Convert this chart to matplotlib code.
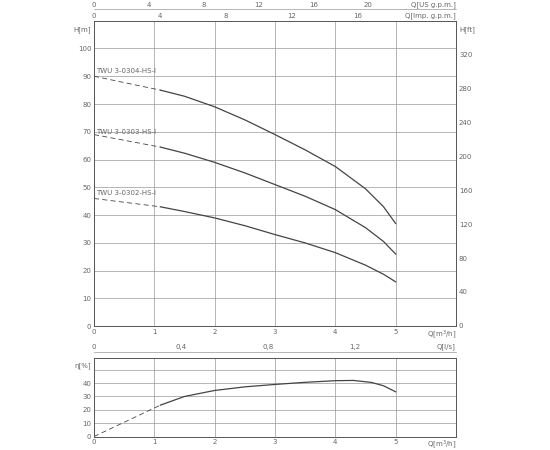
import matplotlib
matplotlib.use("Agg")
import matplotlib.pyplot as plt
from matplotlib.transforms import ScaledTranslation

# pump head curves, Q in m3/h, H in m
q_curve = [1.1, 1.5, 2.0, 2.5, 3.0, 3.5, 4.0, 4.5, 4.8, 5.0]
h_304 = [85, 82.8, 79, 74.3, 69, 63.5, 57.5, 49.5, 43, 37]
h_303 = [64.5, 62.3, 59, 55.2, 51, 46.8, 42, 35.5, 30.5, 26]
h_302 = [43, 41.3, 39, 36.2, 33, 30, 26.5, 22, 18.7, 16]
q_dash = [0, 1.1]
h_dash = {"TWU 3-0304-HS-I": [90, 85], "TWU 3-0303-HS-I": [69, 64.5],
          "TWU 3-0302-HS-I": [46, 43]}
label_y = [92, 70, 48]

# efficiency
q_eff = [1.1, 1.5, 2.0, 2.5, 3.0, 3.5, 4.0, 4.3, 4.6, 4.8, 5.0]
eff = [23.5, 30, 34.5, 37.2, 39, 40.6, 41.8, 42, 40.5, 38, 33.5]
q_eff_dash = [0, 1.1]
eff_dash = [0, 23.5]

gc = "#999999"
lc = "#444444"
tc = "#666666"
fs = 5

fig = plt.figure(figsize=(5.5, 4.5), dpi=100)
ax = fig.add_axes([0.171, 0.275, 0.658, 0.679])
ax2 = fig.add_axes([0.171, 0.03, 0.658, 0.175])

for a in (ax, ax2):
    a.set_xlim(0, 6)
    a.set_xticks(range(0, 6))
    a.grid(True, color=gc, lw=0.5)
    a.tick_params(labelsize=fs, colors=tc, length=0, pad=2)
    for s in a.spines.values():
        s.set_color("#555555")
        s.set_linewidth(0.7)


def up(a, pts):
    return a.get_xaxis_transform() + ScaledTranslation(0, pts / 72, fig.dpi_scale_trans)


ax.set_ylim(0, 110)
ax.set_yticks(range(0, 101, 10))
ax.set_xticklabels([])
for i in range(0, 6):
    ax.annotate(str(i), (i, 0), xytext=(0, -2), textcoords="offset points",
                fontsize=fs, color=tc, ha="center", va="top")
ax.annotate("Q[m$^3$/h]", (6, 0), xytext=(0, -1.5), textcoords="offset points",
            fontsize=fs, color=tc, ha="right", va="top")
ax.text(-0.05, 108, "H[m]", fontsize=fs, color=tc, ha="right", va="top")
ax.text(6.05, 108, "H[ft]", fontsize=fs, color=tc, ha="left", va="top")
for ft in range(0, 321, 40):
    ax.text(6.05, ft / 3.281, str(ft), fontsize=fs, color=tc, ha="left", va="center")

for h in (h_304, h_303, h_302):
    ax.plot(q_curve, h, color=lc, lw=0.9)
for (name, hd), ly in zip(h_dash.items(), label_y):
    ax.plot(q_dash, hd, color=lc, lw=0.6, ls=(0, (6, 4)))
    ax.text(0.03, ly, name, fontsize=fs, color=tc, ha="left", va="center")

# top secondary scales
for off, conv, name, ticks in [(8.5, 4.403, "Q[US g.p.m.]", [0, 4, 8, 12, 16, 20]),
                               (0, 3.666, "Q[Imp. g.p.m.]", [0, 4, 8, 12, 16])]:
    if off:
        ax.plot([0, 6], [1, 1], transform=up(ax, off), color=gc, lw=0.5, clip_on=False)
    for t in ticks:
        ax.text(t / conv, 1, str(t), transform=up(ax, off + 1), fontsize=fs,
                color=tc, ha="center", va="bottom")
    ax.text(6, 1, name, transform=up(ax, off + 1), fontsize=fs, color=tc,
            ha="right", va="bottom")

ax2.set_ylim(0, 59)
ax2.set_yticks(range(0, 51, 10))
ax2.set_yticklabels(["0", "10", "20", "30", "40", ""])
ax2.set_xticklabels([])
for i in range(0, 6):
    ax2.annotate(str(i), (i, 0), xytext=(0, -2), textcoords="offset points",
                 fontsize=fs, color=tc, ha="center", va="top")
ax2.annotate("Q[m$^3$/h]", (6, 0), xytext=(0, -1.5), textcoords="offset points",
             fontsize=fs, color=tc, ha="right", va="top")
ax2.text(-0.05, 56, "η[%]", fontsize=fs, color=tc, ha="right", va="top")
ax2.plot(q_eff, eff, color=lc, lw=0.9)
ax2.plot(q_eff_dash, eff_dash, color=lc, lw=0.6, ls=(0, (6, 4)))

off = 4.5
ax2.plot([0, 6], [1, 1], transform=up(ax2, off), color=gc, lw=0.5, clip_on=False)
for t, s in [(0, "0"), (0.4, "0,4"), (0.8, "0,8"), (1.2, "1,2")]:
    ax2.text(t * 3.6, 1, s, transform=up(ax2, off + 1), fontsize=fs, color=tc,
             ha="center", va="bottom")
ax2.text(6, 1, "Q[l/s]", transform=up(ax2, off + 1), fontsize=fs, color=tc,
         ha="right", va="bottom")

fig.savefig("out.png")
